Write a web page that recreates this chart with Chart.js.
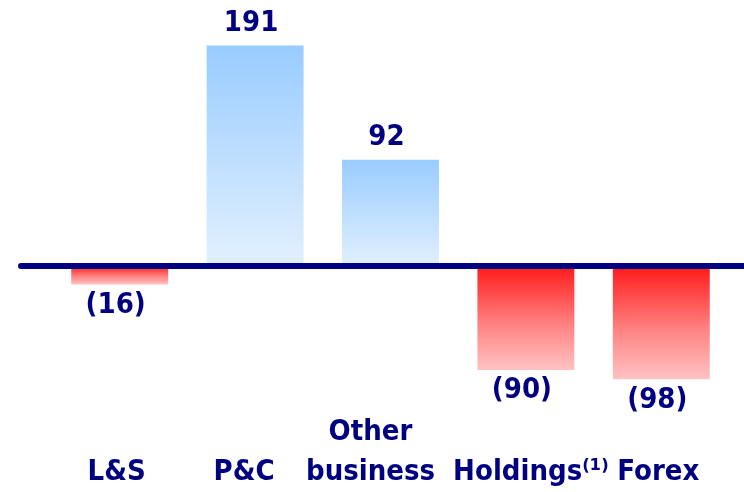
<!DOCTYPE html>
<html>
<head>
<meta charset="utf-8">
<script src="https://cdn.jsdelivr.net/npm/chart.js@4/dist/chart.umd.min.js"></script>
<style>
  html, body { margin: 0; padding: 0; background: #fff; }
  #wrap { width: 744px; height: 492px; }
</style>
</head>
<body>
<div id="wrap"><canvas id="segmentChart"></canvas></div>
<script>
const categories = ['L&S', 'P&C', 'Other business', 'Holdings⁽¹⁾', 'Forex'];
const values = [-16, 191, 92, -90, -98];

const navy = '#000080';
const font = "'DejaVu Sans Condensed', 'DejaVu Sans', sans-serif";
// the category captions in the slide are not perfectly centred under the bars
const captionShift = [-3, -11, -20, 5, -3];

function fmt(v) {
    return v < 0 ? '(' + Math.abs(v) + ')' : String(v);
}

function barGradient(context) {
    const chart = context.chart;
    if (!chart.chartArea || context.type !== 'data') return '#99ccff';
    const y = chart.scales.y;
    const v = context.raw;
    const end = y.getPixelForValue(v);
    const base = y.getPixelForValue(0);
    const g = chart.ctx.createLinearGradient(0, base, 0, end);
    if (v >= 0) {
        g.addColorStop(0, '#e2f0fe');
        g.addColorStop(1, '#99ccff');
    } else {
        g.addColorStop(0, '#ff1a1a');
        g.addColorStop(0.55, '#ff8080');
        g.addColorStop(1, '#ffc2c2');
    }
    return g;
}

// thick navy zero line, value labels and category captions
const annotate = {
    id: 'annotate',
    afterDatasetsDraw(chart) {
        const c = chart.ctx;
        const x = chart.scales.x;
        const y0 = chart.scales.y.getPixelForValue(0);
        c.save();
        c.strokeStyle = navy;
        c.lineWidth = 6;
        c.lineCap = 'round';
        c.beginPath();
        c.moveTo(21, y0);
        c.lineTo(chart.width + 10, y0);
        c.stroke();

        c.fillStyle = navy;
        c.font = 'bold 29px ' + font;
        c.textAlign = 'center';
        c.textBaseline = 'middle';
        chart.getDatasetMeta(0).data.forEach((bar, i) => {
            const v = values[i];
            const ty = v >= 0 ? bar.y - 22 : bar.y + 21;
            c.fillText(fmt(v), bar.x - 4, ty);
        });

        const bottomLine = chart.chartArea.bottom + 79;
        categories.forEach((name, i) => {
            const cx = x.getPixelForValue(i) + captionShift[i];
            const words = name.split(' ');
            words.forEach((w, k) => {
                c.fillText(w, cx, bottomLine - (words.length - 1 - k) * 40);
            });
        });
        c.restore();
    }
};

const config = {
    type: 'bar',
    data: {
        labels: categories,
        datasets: [{
            data: values,
            backgroundColor: barGradient,
            borderWidth: 0,
            categoryPercentage: 1,
            barPercentage: 0.716
        }]
    },
    options: {
        responsive: true,
        maintainAspectRatio: false,
        animation: false,
        layout: {
            padding: { top: 12, left: 52, right: 15, bottom: 99 }
        },
        scales: {
            x: { display: false },
            y: {
                display: false,
                min: -110,
                max: 220
            }
        },
        plugins: {
            legend: { display: false },
            tooltip: { enabled: false }
        }
    },
    plugins: [annotate]
};

const segmentChart = new Chart(document.getElementById('segmentChart'), config);
</script>
</body>
</html>
